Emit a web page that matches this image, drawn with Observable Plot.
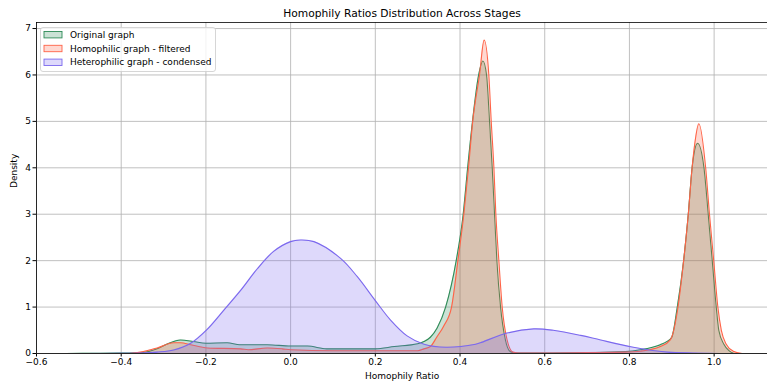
<!DOCTYPE html>
<html>
<head>
<meta charset="utf-8">
<script src="https://cdn.jsdelivr.net/npm/d3@7"></script>
<script src="https://cdn.jsdelivr.net/npm/@observablehq/plot@0.6"></script>
<style>
  html, body { margin: 0; padding: 0; background: white; }
  #chart { position: relative; width: 767px; height: 385px; }
</style>
</head>
<body>
<div id="chart"></div>
<script>
const title = "Homophily Ratios Distribution Across Stages";
const xLabel = "Homophily Ratio";
const yLabel = "Density";
const xTicks = [-0.6, -0.4, -0.2, 0.0, 0.2, 0.4, 0.6, 0.8, 1.0];
const yTicks = [0, 1, 2, 3, 4, 5, 6, 7];
const xDomain = [-0.6, 1.126];
const yDomain = [0, 7.13];

const seriesNames = ["Original graph", "Homophilic graph - filtered", "Heterophilic graph - condensed"];
const seriesColors = ["#2e8b57", "#ff6347", "#7b68ee"];
const seriesCurves = ["monotone-x", "monotone-x", "catmull-rom"];

// Original graph
const origX = [-0.53, -0.45, -0.38, -0.35, -0.315, -0.29, -0.26, -0.23, -0.2, -0.15, -0.12, -0.055, 0.0, 0.04, 0.085, 0.15, 0.2, 0.245, 0.3, 0.315, 0.33, 0.346, 0.366, 0.391, 0.4075, 0.418, 0.4295, 0.444, 0.454, 0.4626, 0.4697, 0.476, 0.4815, 0.487, 0.4957, 0.507, 0.519, 0.535, 0.6, 0.7, 0.79, 0.826, 0.873, 0.889, 0.9, 0.913, 0.928, 0.939, 0.948, 0.961, 0.976, 0.986, 0.9955, 1.005, 1.011, 1.023, 1.035, 1.047];
const origY = [0, 0.005, 0.01, 0.02, 0.1, 0.21, 0.29, 0.26, 0.22, 0.23, 0.19, 0.19, 0.16, 0.16, 0.1, 0.1, 0.1, 0.15, 0.21, 0.26, 0.35, 0.55, 1.0, 2.0, 3.0, 4.0, 5.0, 6.0, 6.3, 6.0, 5.0, 4.0, 3.0, 2.0, 1.0, 0.3, 0.04, 0.01, 0.01, 0.02, 0.04, 0.08, 0.19, 0.26, 0.35, 1.0, 2.0, 3.0, 4.0, 4.53, 4.0, 3.0, 2.0, 1.0, 0.5, 0.2, 0.06, 0];

// Homophilic graph - filtered
const homoX = [-0.38, -0.354, -0.315, -0.276, -0.26, -0.236, -0.197, -0.118, -0.1, -0.055, -0.02, 0.0, 0.1, 0.2, 0.3, 0.315, 0.33, 0.345, 0.362, 0.38, 0.395, 0.409, 0.42, 0.43, 0.446, 0.457, 0.468, 0.4737, 0.48, 0.4846, 0.4917, 0.4996, 0.511, 0.525, 0.54, 0.6, 0.7, 0.79, 0.826, 0.873, 0.897, 0.913, 0.928, 0.939, 0.948, 0.954, 0.964, 0.98, 0.989, 0.999, 1.0088, 1.017, 1.0286, 1.045, 1.066];
const homoY = [0, 0.03, 0.12, 0.23, 0.23, 0.19, 0.12, 0.1, 0.08, 0.12, 0.1, 0.08, 0.06, 0.06, 0.06, 0.1, 0.15, 0.35, 0.6, 1.0, 2.0, 3.0, 4.0, 5.0, 6.0, 6.75, 6.0, 5.0, 4.0, 3.0, 2.0, 1.0, 0.3, 0.03, 0.01, 0.01, 0.02, 0.03, 0.05, 0.15, 0.3, 0.9, 2.0, 3.0, 4.0, 4.5, 4.95, 4.0, 3.0, 2.0, 1.0, 0.5, 0.2, 0.05, 0];

// Heterophilic graph - condensed
const heteroX = [-0.49, -0.4, -0.354, -0.315, -0.276, -0.236, -0.197, -0.158, -0.118, -0.079, -0.04, 0.0, 0.0234, 0.055, 0.118, 0.157, 0.2, 0.236, 0.275, 0.315, 0.366, 0.437, 0.448, 0.511, 0.574, 0.62, 0.685, 0.732, 0.806, 0.85, 0.889, 0.95, 1.015];
const heteroY = [0, 0.003, 0.01, 0.03, 0.075, 0.22, 0.52, 0.93, 1.36, 1.82, 2.2, 2.41, 2.445, 2.41, 2.05, 1.66, 1.14, 0.72, 0.38, 0.2, 0.135, 0.2, 0.23, 0.44, 0.53, 0.5, 0.39, 0.29, 0.14, 0.07, 0.03, 0.01, 0];

const seriesX = [origX, homoX, heteroX];
const seriesY = [origY, homoY, heteroY];

const tables = seriesNames.map((name, i) => seriesX[i].map((x, j) => ({series: name, x, y: seriesY[i][j]})));

const curveMarks = tables.flatMap((rows, i) => [
  Plot.areaY(rows, {x: "x", y: "y", fill: seriesColors[i], fillOpacity: 0.25, curve: seriesCurves[i], clip: true}),
  Plot.lineY(rows, {x: "x", y: "y", stroke: seriesColors[i], strokeWidth: 1.1, curve: seriesCurves[i], clip: true})
]);

const chart = Plot.plot({
  width: 767,
  height: 385,
  marginLeft: 36,
  marginRight: 0,
  marginTop: 22,
  marginBottom: 32,
  style: {fontFamily: "DejaVu Sans", fontSize: "9px", background: "white", color: "black"},
  x: {domain: xDomain, ticks: xTicks, tickFormat: d3.format(".1f"), tickSize: 3.5, tickPadding: 2, label: null},
  y: {domain: yDomain, ticks: yTicks, tickFormat: d => String(d), tickSize: 3.5, tickPadding: 2, label: null},
  marks: [
    Plot.gridX(xTicks, {stroke: "#b0b0b0", strokeOpacity: 1, strokeWidth: 0.8}),
    Plot.gridY(yTicks, {stroke: "#b0b0b0", strokeOpacity: 1, strokeWidth: 0.8}),
    ...curveMarks,
    Plot.ruleX([xDomain[0]], {stroke: "black", strokeWidth: 0.8}),
    Plot.ruleY(yDomain, {stroke: "black", strokeWidth: 0.8}),
    Plot.text([title], {frameAnchor: "top", dy: -9, lineAnchor: "middle", fontSize: 10.7, text: d => d}),
    Plot.text([xLabel], {frameAnchor: "bottom", dy: 23, lineAnchor: "middle", fontSize: 9, text: d => d}),
    Plot.text([yLabel], {frameAnchor: "left", dx: -22, rotate: -90, lineAnchor: "middle", fontSize: 9, text: d => d})
  ]
});

document.getElementById("chart").appendChild(chart);

// Legend
const svg = d3.select(chart);
const lg = svg.append("g").attr("font-family", "DejaVu Sans").attr("font-size", 9).attr("text-anchor", "start");
lg.append("rect").attr("x", 40.5).attr("y", 27.5).attr("width", 175).attr("height", 44)
  .attr("rx", 2.5).attr("fill", "white").attr("fill-opacity", 0.8).attr("stroke", "#cccccc").attr("stroke-width", 0.8);
seriesNames.forEach((name, i) => {
  const cy = 34.7 + i * 13.8;
  lg.append("rect").attr("x", 44).attr("y", cy - 3.2).attr("width", 18).attr("height", 6.4)
    .attr("fill", seriesColors[i]).attr("fill-opacity", 0.25).attr("stroke", seriesColors[i]).attr("stroke-width", 0.9);
  lg.append("text").attr("x", 70).attr("y", cy).attr("dy", "0.35em").attr("text-anchor", "start").attr("fill", "black").text(name);
});
</script>
</body>
</html>
